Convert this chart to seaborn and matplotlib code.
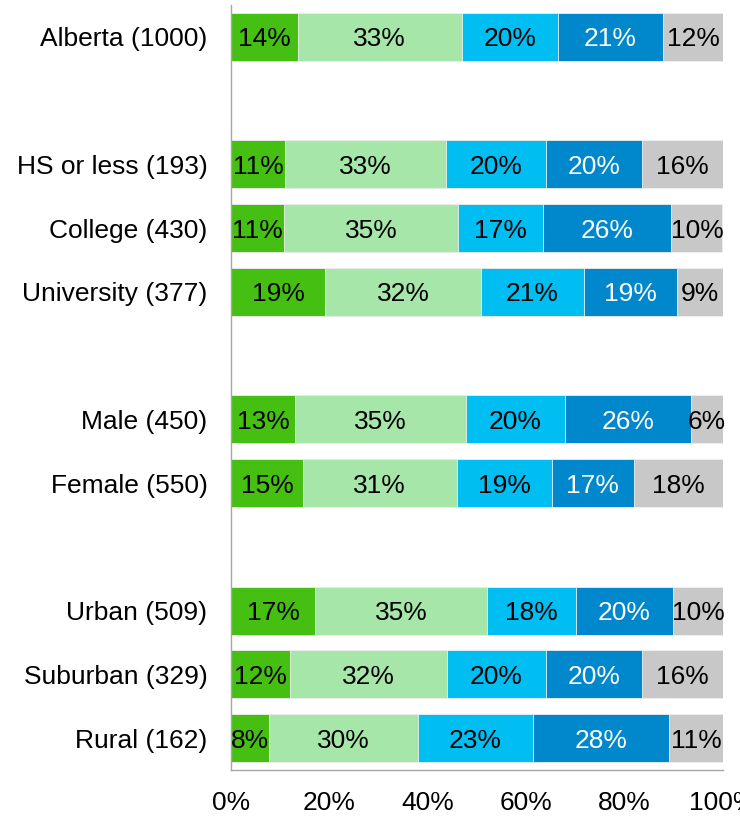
import numpy as np
import pandas as pd
import matplotlib
matplotlib.use("Agg")
import matplotlib.pyplot as plt
import seaborn as sns

categories = ["Alberta (1000)", " ", "HS or less (193)", "College (430)", "University (377)",
              "  ", "Male (450)", "Female (550)", "   ", "Urban (509)", "Suburban (329)", "Rural (162)"]
groups = ["Alberta (1000)", "HS or less (193)", "College (430)", "University (377)",
          "Male (450)", "Female (550)", "Urban (509)", "Suburban (329)", "Rural (162)"]

s1 = [13.6, 11.0, 10.8, 19.1, 13.0, 14.6, 17.1, 12.0, 7.7]
s2 = [33.3, 32.7, 35.4, 31.7, 34.8, 31.3, 34.9, 31.9, 30.3]
s3 = [19.5, 20.3, 17.2, 20.9, 20.0, 19.3, 18.1, 20.1, 23.3]
s4 = [21.4, 19.6, 26.1, 18.9, 25.7, 16.7, 19.7, 19.5, 27.7]
s5 = [12.2, 16.4, 10.4, 9.4, 6.5, 18.1, 10.2, 16.5, 11.0]

series = [s1, s2, s3, s4, s5]
colors = ["#45C012", "#A6E6A8", "#00BDF2", "#0087CC", "#C8C8C8"]
text_colors = ["black", "black", "black", "white", "black"]
xticks = [0, 20, 40, 60, 80, 100]
xticklabels = ["0%", "20%", "40%", "60%", "80%", "100%"]

sns.set_style("white")
plt.rcParams["font.family"] = ["Liberation Sans", "DejaVu Sans"]
FS = 19

fig = plt.figure(figsize=(7.4, 8.18), dpi=100)
ax = fig.add_axes([0.3122, 0.0587, 0.977 - 0.3122, 0.9939 - 0.0587])

vals = np.array(series)
cum = np.cumsum(vals, axis=0)

for i in range(len(series) - 1, -1, -1):
    df = pd.DataFrame({"group": groups, "value": cum[i]})
    sns.barplot(data=df, x="value", y="group", order=categories, orient="h",
                color=colors[i], saturation=1, width=0.75, edgecolor="#F0F0F0",
                linewidth=0.6, ax=ax)

ypos = {c: k for k, c in enumerate(categories)}
for i in range(len(series)):
    for j, g in enumerate(groups):
        left = cum[i][j] - vals[i][j]
        ax.text(left + vals[i][j] / 2, ypos[g], f"{round(vals[i][j]):.0f}%",
                ha="center", va="center_baseline", fontsize=FS, color=text_colors[i])

ax.set_xlim(0, 100)
ax.set_ylim(len(categories) - 0.5, -0.5)
ax.set_xticks(xticks)
ax.set_xticklabels(xticklabels, fontsize=FS, color="black")
ax.set_yticks(range(len(categories)))
ax.set_yticklabels(categories, fontsize=FS, color="black")
ax.set_yticks(np.arange(-0.5, len(categories), 1.0), minor=True)
ax.tick_params(axis="y", which="major", length=0, pad=17)
ax.tick_params(axis="y", which="minor", length=8, color="#A6A6A6", width=1, direction="out")
ax.tick_params(axis="x", which="major", length=7, color="#A6A6A6", width=1, direction="out", pad=8)
ax.set_xlabel("")
ax.set_ylabel("")
for side in ["top", "right"]:
    ax.spines[side].set_visible(False)
for side in ["left", "bottom"]:
    ax.spines[side].set_color("#A6A6A6")
    ax.spines[side].set_linewidth(1)

fig.savefig("out.png", dpi=100)
